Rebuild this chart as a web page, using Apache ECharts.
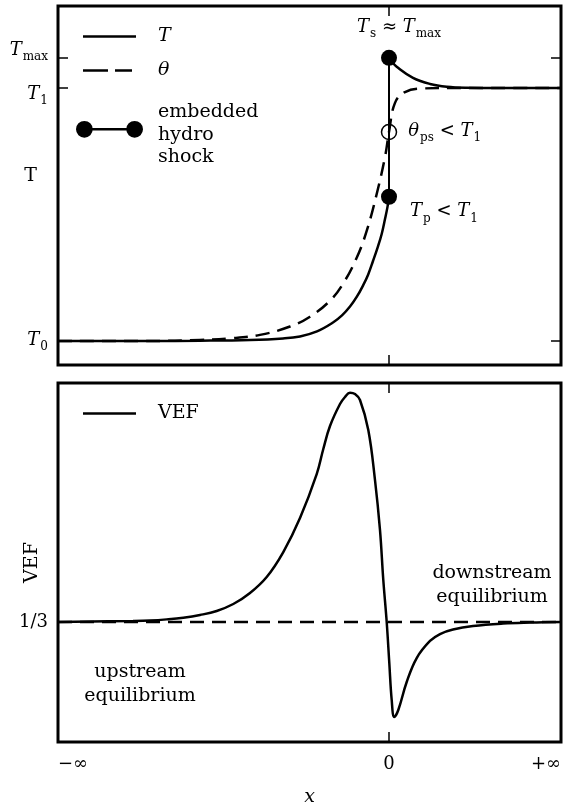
<!DOCTYPE html>
<html>
<head>
<meta charset="utf-8">
<script src="https://cdn.jsdelivr.net/npm/echarts@6/dist/echarts.min.js"></script>
<style>
  html, body { margin: 0; padding: 0; background: #fff; }
  #chart { width: 563px; height: 806px; }
</style>
</head>
<body>
<div id="chart"></div>
<script>
// x in arbitrary units, 0 = shock position
const X_MIN = -3.31;
const X_MAX = 1.72;

// temperature, T0 = 0 and T1 = 1
const T0 = 0;
const T1 = 1;
const T_MAX = 1.119;
const T_P = 0.570;
const THETA_PS = 0.826;

// T before the shock
const tPreX = [-3.31, -2.39, -1.89, -1.39, -1.06, -0.89, -0.72, -0.56, -0.47, -0.39, -0.32, -0.26, -0.21, -0.16, -0.115, -0.073, -0.04, -0.015, 0];
const tPreY = [0, 0, 0.001, 0.004, 0.010, 0.018, 0.038, 0.073, 0.101, 0.136, 0.176, 0.219, 0.261, 0.316, 0.368, 0.423, 0.482, 0.530, 0.570];
// T after the shock
const tPostX = [0, 0.03, 0.077, 0.24, 0.41, 0.577, 0.777, 1.11, 1.72];
const tPostY = [1.119, 1.103, 1.084, 1.040, 1.016, 1.005, 1.001, 1.0, 1.0];
// radiation temperature theta
const thetaX = [-3.31, -2.39, -1.89, -1.59, -1.29, -0.99, -0.79, -0.59, -0.46, -0.323, -0.223, -0.123, -0.04, 0, 0.06, 0.16, 0.34, 0.61, 1.72];
const thetaY = [0, 0, 0.004, 0.010, 0.024, 0.057, 0.096, 0.159, 0.226, 0.329, 0.435, 0.581, 0.727, 0.826, 0.941, 0.984, 0.998, 1.0, 1.0];

// Eddington factor
const VEF_EQ = 1 / 3;
const vefX = [-3.31, -2.56, -2.39, -2.223, -2.057, -1.89, -1.723, -1.557, -1.39, -1.223, -1.057, -0.89, -0.723, -0.657, -0.59, -0.49, -0.44, -0.39, -0.34, -0.29, -0.207, -0.14, -0.09, -0.057, -0.023, 0.003, 0.027, 0.053, 0.093, 0.177, 0.277, 0.41, 0.51, 0.64, 0.84, 1.14, 1.41, 1.72];
const vefY = [0.3333, 0.3346, 0.3352, 0.3366, 0.3387, 0.3421, 0.3471, 0.3558, 0.3696, 0.3896, 0.4208, 0.4633, 0.5183, 0.5496, 0.5783, 0.6058, 0.6146, 0.6200, 0.6183, 0.6108, 0.5733, 0.5108, 0.4483, 0.3858, 0.3333, 0.2821, 0.2358, 0.2146, 0.2233, 0.2583, 0.2883, 0.3096, 0.3183, 0.3239, 0.3283, 0.3314, 0.3326, 0.3333];

const xTicks = [X_MIN, 0, X_MAX];
const xTickLabels = ['\u2212\u221e', '0', '+\u221e'];
const tTicks = [T0, T1, T_MAX];
const vefTicks = [VEF_EQ];

const FONT = 'DejaVu Serif';

function zip(xs, ys) {
    return xs.map((x, i) => [x, ys[i]]);
}

// rich styles for math-like labels (italic letter + roman subscript)
const rich = {
    i: { fontFamily: FONT, fontStyle: 'italic', fontSize: 18, lineHeight: 20, verticalAlign: 'top', color: '#000' },
    r: { fontFamily: FONT, fontSize: 18, lineHeight: 20, verticalAlign: 'top', color: '#000' },
    s: { fontFamily: FONT, fontSize: 12, lineHeight: 14, padding: [10, 0, 0, 1], verticalAlign: 'top', color: '#000' }
};

const tickStyle = { inside: true, length: 10, lineStyle: { color: '#000', width: 1.5 } };
const noLine = { show: false, onZero: false };

function xAxisFor(grid, pos, withLabels) {
    const ax = {
        gridIndex: grid, type: 'value', position: pos, min: X_MIN, max: X_MAX,
        axisLine: noLine, splitLine: { show: false },
        axisTick: Object.assign({ customValues: [0] }, tickStyle),
        axisLabel: { show: false }
    };
    if (withLabels) {
        ax.axisLabel = {
            show: true, customValues: xTicks, margin: 13,
            fontFamily: FONT, fontSize: 18, color: '#000',
            alignMinLabel: 'left', alignMaxLabel: 'right',
            formatter: v => xTickLabels[xTicks.indexOf(v)]
        };
        ax.name = 'x';
        ax.nameLocation = 'middle';
        ax.nameGap = 46;
        ax.nameMoveOverlap = false;
        ax.nameTextStyle = { fontFamily: FONT, fontStyle: 'italic', fontSize: 19, color: '#000' };
    }
    return ax;
}

// extra left axis that only carries one tick label (labels are nudged apart like the original)
function tLabelAxis(value, text, pad) {
    return {
        gridIndex: 0, type: 'value', position: 'left', min: -0.095, max: 1.324,
        axisLine: noLine, splitLine: { show: false }, axisTick: { show: false },
        axisLabel: { customValues: [value], margin: 10, rich: rich, padding: pad, formatter: () => text }
    };
}

const lineIcon = 'path://M0,0L53,0L53,1L0,1Z';
const dashIcon = 'path://M0,0L25,0L25,1L0,1ZM32,0L49,0L49,1L32,1Z';
// two dots joined by a bar; the empty sub-path at the bottom lifts the dots above the text centre
const shockIcon = 'path://M0,1A1,1,0,1,1,2,1A1,1,0,1,1,0,1ZM6,1A1,1,0,1,1,8,1A1,1,0,1,1,6,1ZM1,0.85L7,0.85L7,1.15L1,1.15ZM4,3.31L4.001,3.31L4,3.31Z';

const legendText = { fontFamily: FONT, fontSize: 19, color: '#000', padding: [0, 0, 0, 17] };

let myChart = echarts.init(document.getElementById('chart'));

let option = {
    animation: false,
    backgroundColor: '#fff',
    color: ['#000'],
    grid: [
        { left: 58, top: 6, width: 503, height: 359, show: true, borderColor: '#000', borderWidth: 3, outerBoundsMode: 'none' },
        { left: 58, top: 383, width: 503, height: 359, show: true, borderColor: '#000', borderWidth: 3, outerBoundsMode: 'none' }
    ],
    legend: [
        { data: [{ name: 'T', icon: lineIcon }], left: 83, top: 27, padding: 0, itemWidth: 53, itemHeight: 2.7,
          symbolKeepAspect: false, selectedMode: false,
          textStyle: Object.assign({ fontStyle: 'italic' }, legendText) },
        { data: [{ name: '\u03b8', icon: dashIcon }], left: 83, top: 61, padding: 0, itemWidth: 49, itemHeight: 2.7,
          symbolKeepAspect: false, selectedMode: false,
          textStyle: Object.assign({ fontStyle: 'italic' }, legendText, { padding: [0, 0, 0, 21] }) },
        { data: [{ name: 'shock', icon: shockIcon }], left: 76, top: 101, padding: 0, itemWidth: 67, itemHeight: 28,
          selectedMode: false, formatter: 'embedded\nhydro\nshock',
          textStyle: Object.assign({}, legendText, { lineHeight: 22.5, padding: [0, 0, 0, 10] }) },
        { data: [{ name: 'VEF', icon: lineIcon }], left: 83, top: 404, padding: 0, itemWidth: 53, itemHeight: 2.7,
          symbolKeepAspect: false, selectedMode: false, textStyle: legendText }
    ],
    xAxis: [
        xAxisFor(0, 'bottom', false),
        xAxisFor(0, 'top', false),
        xAxisFor(1, 'bottom', true),
        xAxisFor(1, 'top', false)
    ],
    yAxis: [
        {
            gridIndex: 0, type: 'value', position: 'left', min: -0.095, max: 1.324,
            name: 'T', nameLocation: 'middle', nameRotate: 0, nameGap: 21, nameMoveOverlap: false,
            nameTextStyle: { fontFamily: FONT, fontSize: 19, color: '#000', verticalAlign: 'bottom' },
            axisLine: noLine, splitLine: { show: false },
            axisTick: Object.assign({ customValues: tTicks }, tickStyle),
            axisLabel: { customValues: [T0], margin: 10, rich: rich, formatter: () => '{i|T}{s|0}' }
        },
        {
            gridIndex: 0, type: 'value', position: 'right', min: -0.095, max: 1.324,
            axisLine: noLine, splitLine: { show: false },
            axisTick: Object.assign({ customValues: tTicks }, tickStyle),
            axisLabel: { show: false }
        },
        tLabelAxis(T1, '{i|T}{s|1}', [14, 0, 0, 0]),
        tLabelAxis(T_MAX, '{i|T}{s|max}', [0, 0, 14, 0]),
        {
            gridIndex: 1, type: 'value', position: 'left', min: 0.1833, max: 0.6321,
            name: 'VEF', nameLocation: 'middle', nameRotate: 90, nameGap: 16, nameMoveOverlap: false,
            nameTextStyle: { fontFamily: FONT, fontSize: 19, color: '#000' },
            axisLine: noLine, splitLine: { show: false },
            axisTick: Object.assign({ customValues: vefTicks }, tickStyle),
            axisLabel: {
                customValues: vefTicks, margin: 10,
                fontFamily: FONT, fontSize: 18, color: '#000',
                formatter: () => '1/3'
            }
        },
        {
            gridIndex: 1, type: 'value', position: 'right', min: 0.1833, max: 0.6321,
            axisLine: noLine, splitLine: { show: false },
            axisTick: Object.assign({ customValues: vefTicks }, tickStyle),
            axisLabel: { show: false }
        }
    ],
    series: [
        {
            name: 'T', type: 'line', xAxisIndex: 0, yAxisIndex: 0,
            data: zip(tPreX, tPreY), smooth: 0.4, symbol: 'none', z: 3,
            lineStyle: { color: '#000', width: 2.5 }, itemStyle: { color: '#000' }
        },
        {
            name: 'T', type: 'line', xAxisIndex: 0, yAxisIndex: 0,
            data: zip(tPostX, tPostY), smooth: 0.4, symbol: 'none', z: 3,
            lineStyle: { color: '#000', width: 2.5 }, itemStyle: { color: '#000' }
        },
        {
            name: '\u03b8', type: 'line', xAxisIndex: 0, yAxisIndex: 0,
            data: zip(thetaX, thetaY), smooth: 0.4, symbol: 'none', z: 2,
            lineStyle: { color: '#000', width: 2.5, type: [14, 8] }, itemStyle: { color: '#000' }
        },
        {
            name: 'shock', type: 'line', xAxisIndex: 0, yAxisIndex: 0,
            symbol: 'circle', symbolSize: 16, z: 5,
            lineStyle: { color: '#000', width: 2 }, itemStyle: { color: '#000' },
            label: { fontFamily: FONT, fontSize: 18, color: '#000', rich: rich },
            data: [
                { value: [0, T_P], label: { show: true, position: 'right', distance: 13, offset: [0, 16],
                  formatter: '{i|T}{s|p}{r| < }{i|T}{s|1}' } },
                { value: [0, T_MAX], label: { show: true, position: 'top', distance: 12, offset: [10, 0],
                  formatter: '{i|T}{s|s}{r| \u2248 }{i|T}{s|max}' } }
            ]
        },
        {
            name: 'theta_ps', type: 'scatter', xAxisIndex: 0, yAxisIndex: 0,
            symbol: 'circle', symbolSize: 15, z: 6,
            itemStyle: { color: 'rgba(0,0,0,0)', borderColor: '#000', borderWidth: 1.5, opacity: 1 },
            label: { show: true, position: 'right', distance: 11, color: '#000', rich: rich,
                     formatter: '{i|\u03b8}{s|ps}{r| < }{i|T}{s|1}' },
            data: [[0, THETA_PS]]
        },
        {
            name: 'VEF', type: 'line', xAxisIndex: 2, yAxisIndex: 4,
            data: zip(vefX, vefY), smooth: 0.4, symbol: 'none', z: 3,
            lineStyle: { color: '#000', width: 2.5 }, itemStyle: { color: '#000' }
        },
        {
            name: 'equilibrium', type: 'line', xAxisIndex: 2, yAxisIndex: 4,
            data: [[X_MIN, VEF_EQ], [X_MAX, VEF_EQ]], symbol: 'none', z: 2,
            lineStyle: { color: '#000', width: 2.5, type: [14, 8] }
        }
    ],
    graphic: [
        { type: 'text', x: 140, y: 684,
          style: { text: 'upstream\nequilibrium', font: '19px "DejaVu Serif"', fill: '#000',
                   align: 'center', verticalAlign: 'middle', lineHeight: 24 } },
        { type: 'text', x: 492, y: 585,
          style: { text: 'downstream\nequilibrium', font: '19px "DejaVu Serif"', fill: '#000',
                   align: 'center', verticalAlign: 'middle', lineHeight: 24 } }
    ]
};

myChart.setOption(option);
</script>
</body>
</html>
